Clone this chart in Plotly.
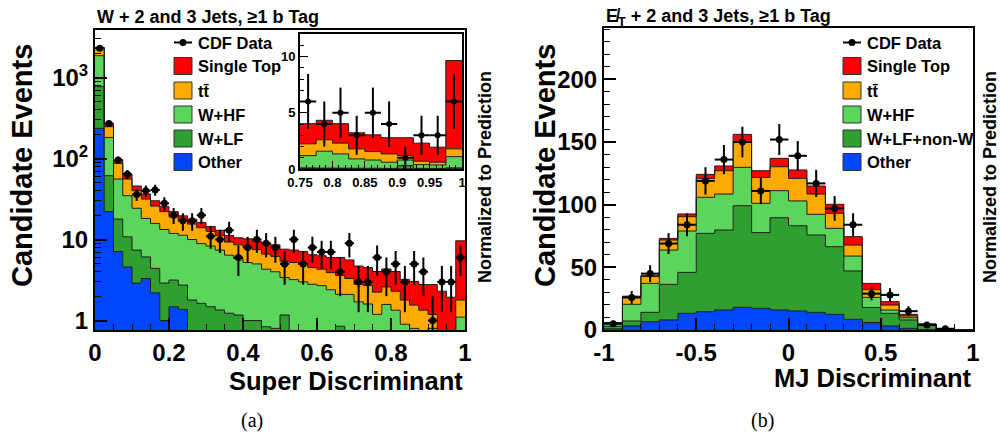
import numpy as np
import plotly.graph_objects as go

W, H = 1000, 434

# ---------------- Left panel: Super Discriminant (W + 2,3 jets) ----------------
sd_edges = np.linspace(0.0, 1.0, 41)
sd_other = [236, 22.1, 7.1, 4.6, 2.9, 3.3, 2.2, 1.0, 1.48, 1.37,
            0, 0, 0, 0, 0, 0, 0, 0, 0, 0,
            0, 0, 0, 0, 0, 0, 0, 0, 0, 0,
            0.05, 0.03, 0.03, 0.02, 0.02, 0.02, 0.02, 0.02, 0.02, 0.02]
sd_wlf = [535, 39.3, 10.8, 6.2, 4.5, 2.8, 2.2, 1.9, 1.68, 1.37,
          1.79, 1.63, 1.48, 1.35, 1.23, 1.17, 1.0, 1.0, 0.84, 0.8,
          1.17, 0.75, 0.7, 0.65, 0.6, 0.55, 0.85, 0.5, 0.45, 0.4,
          0.05, 0.05, 0.05, 0.05, 0.05, 0.04, 0.28, 0.04, 0.04, 0.08]
sd_whf = [1089, 120.6, 37.9, 24.0, 16.9, 12.1, 11.4, 10.4, 8.74, 8.56,
          8.21, 7.27, 6.82, 6.05, 5.17, 4.63, 4.2, 4.0, 3.46, 3.2,
          2.23, 2.45, 2.3, 2.15, 2.1, 1.85, 1.25, 1.6, 1.25, 1.2,
          1.09, 1.5, 1.26, 0.83, 0.73, 0.54, 0.5, 0.33, 0.3, 1.0]
sd_ttbar = [430, 65, 31.3, 21.0, 15.8, 13.4, 10.1, 8.8, 7.1, 5.8,
            5.5, 5.1, 4.3, 3.8, 2.9, 2.8, 2.8, 2.5, 2.3, 2.2,
            2.0, 2.0, 1.9, 1.7, 1.6, 1.5, 1.5, 1.2, 1.1, 1.1,
            1.05, 1.02, 0.96, 0.89, 0.75, 0.74, 0.39, 0.3, 0.24, 0.69]
sd_stop = [66, 20, 8.7, 8.6, 5.7, 4.9, 4.2, 3.3, 3.1, 2.5,
           2.3, 2.2, 1.9, 1.8, 1.9, 1.9, 2.2, 2.0, 2.4, 2.4,
           2.2, 2.2, 2.2, 2.0, 2.0, 2.1, 2.4, 2.3, 1.9, 1.8,
           1.79, 1.73, 1.73, 1.43, 1.49, 1.44, 1.59, 1.61, 1.34, 7.85]
sd_data = [2300, 270, 96, 64, 36, 40, 41, 28, 20, 17,
           17, 20, 11, 10, 13, 6, 8, 10, 9, 8,
           5, 10, 5, 8, 7, 7, 4, 9, 3, 3,
           6, 4, 5, 3, 5, 4, 1, 3, 3, 6]
sd_yticks = [1, 10, 100, 1000]
sd_yticktext = ["1", "10", "10<sup>2</sup>", "10<sup>3</sup>"]
sd_xticks = [0, 0.2, 0.4, 0.6, 0.8, 1.0]
sd_xticktext = ["0", "0.2", "0.4", "0.6", "0.8", "1"]
inset_first_bin = 30
inset_xticks = [0.75, 0.8, 0.85, 0.9, 0.95, 1.0]
inset_xticktext = ["0.75", "0.8", "0.85", "0.9", "0.95", "1"]
inset_yticks = [0, 5, 10]

# ---------------- Right panel: MJ Discriminant (MET + 2,3 jets) ----------------
mj_edges = np.linspace(-1.0, 1.0, 21)
mj_other = [1.0, 3.2, 6.6, 8.0, 13.3, 14.6, 16.0, 18.1, 17.3, 16.0,
            15.2, 14.1, 12.5, 8.5, 6.0, 3.2, 1.3, 0.3, 0.1, 0.0]
mj_wlf = [2.0, 4.0, 7.5, 28.4, 32.7, 62.5, 63.8, 81.1, 60.4, 73.6,
          68.0, 61.7, 54.0, 38.6, 12.0, 10.1, 6.7, 3.5, 0.5, 0.1]
mj_whf = [2.5, 13.3, 23.1, 27.4, 33.0, 28.8, 28.7, 30.6, 23.4, 21.6,
          19.8, 16.5, 14.6, 11.9, 8.0, 2.6, 1.8, 0.5, 0.1, 0.0]
mj_ttbar = [0.3, 5.3, 5.4, 8.0, 11.4, 15.1, 18.6, 20.5, 20.7, 19.1,
            18.0, 16.2, 12.0, 8.8, 6.2, 4.0, 1.4, 0.3, 0.05, 0.0]
mj_stop = [0.2, 1.2, 1.0, 1.3, 2.2, 3.2, 3.8, 5.8, 5.3, 6.7,
           6.7, 6.4, 7.2, 6.7, 5.0, 2.7, 1.3, 0.3, 0.05, 0.0]
mj_data = [5, 26, 45, 69, 84, 119, 136, 150, 111, 152,
           139, 117, 97, 84, 29, 28, 15, 4, 1, None]
mj_yticks = [0, 50, 100, 150, 200]
mj_xticks = [-1, -0.5, 0, 0.5, 1]
mj_xticktext = ["-1", "-0.5", "0", "0.5", "1"]

# ---------------- style ----------------
C_STOP, C_TT, C_WHF, C_WLF, C_OTHER = "#ff0000", "#ffaa00", "#5bd55b", "#2f9f2f", "#0046ff"
OUTLINE = "#1c1c1c"
FONT = "Liberation Sans"


def X(p):
    return p / W


def Y(p):
    return 1 - p / H


fig = go.Figure()


def add_stack(edges, comps, xa, ya, floor, lo=None, hi=None):
    e = np.asarray(edges)[lo:(None if hi is None else hi + 1)]
    n = len(e) - 1
    fig.add_trace(go.Scatter(x=e, y=np.full(len(e), floor), mode="lines",
                             line=dict(width=0, shape="hv"), xaxis=xa, yaxis=ya,
                             hoverinfo="skip", showlegend=False))
    cum = np.zeros(n)
    for vals, color in comps:
        cum = cum + np.asarray(vals, dtype=float)[lo:hi]
        y = np.maximum(cum, floor)
        fig.add_trace(go.Scatter(x=e, y=np.append(y, y[-1]), mode="lines",
                                 line=dict(color=OUTLINE, width=1, shape="hv"),
                                 fill="tonexty", fillcolor=color,
                                 xaxis=xa, yaxis=ya, hoverinfo="skip", showlegend=False))


def add_data(edges, data, xa, ya, lo=None, hi=None, msize=7, thick=2):
    e = np.asarray(edges)
    centers = 0.5 * (e[:-1] + e[1:])
    half = 0.5 * (e[1] - e[0])
    fig.add_trace(go.Scatter(x=centers[lo:hi], y=list(data)[lo:hi], mode="markers",
                             marker=dict(color="black", size=msize),
                             error_y=dict(type="sqrt", color="black", thickness=thick, width=0),
                             error_x=dict(type="constant", value=half, color="black",
                                          thickness=thick, width=0),
                             xaxis=xa, yaxis=ya, showlegend=False))


sd_comps = [(sd_other, C_OTHER), (sd_wlf, C_WLF), (sd_whf, C_WHF), (sd_ttbar, C_TT), (sd_stop, C_STOP)]
mj_comps = [(mj_other, C_OTHER), (mj_wlf, C_WLF), (mj_whf, C_WHF), (mj_ttbar, C_TT), (mj_stop, C_STOP)]

add_stack(sd_edges, sd_comps, "x", "y", 1e-2)
add_data(sd_edges, sd_data, "x", "y")
add_stack(mj_edges, mj_comps, "x2", "y2", 0.0)
add_data(mj_edges, mj_data, "x2", "y2")
add_stack(sd_edges, sd_comps, "x3", "y3", 0.0, lo=inset_first_bin, hi=len(sd_data))
add_data(sd_edges, sd_data, "x3", "y3", lo=inset_first_bin, hi=len(sd_data), msize=6, thick=2)

tick_font = dict(family=FONT, size=24, color="black", weight="bold")
small_font = dict(family=FONT, size=13, color="black", weight="bold")
axis_common = dict(showline=True, mirror=True, linecolor="black", linewidth=2,
                   ticks="inside", tickcolor="black", showgrid=False, zeroline=False,
                   fixedrange=True, automargin=False)

fig.update_layout(
    width=W, height=H, margin=dict(l=0, r=0, t=0, b=0),
    paper_bgcolor="white", plot_bgcolor="white", showlegend=False,
    xaxis=dict(domain=[X(95), X(465)], range=[0, 1], anchor="y",
               tickvals=sd_xticks, ticktext=sd_xticktext, ticklen=12, tickwidth=1.5,
               tickfont=tick_font,
               minor=dict(ticks="inside", dtick=0.05, ticklen=6, tickcolor="black", tickwidth=1),
               **axis_common),
    yaxis=dict(domain=[Y(330), Y(29.5)], type="log", range=[-0.117, 3.593], anchor="x",
               tickvals=sd_yticks, ticktext=sd_yticktext, ticklen=12, tickwidth=1.5,
               tickfont=tick_font,
               minor=dict(ticks="inside", ticklen=6, tickcolor="black", tickwidth=1,
                          tickvals=[m * d for d in (1, 10, 100, 1000) for m in range(2, 10)]),
               **axis_common),
    xaxis2=dict(domain=[X(604), X(973)], range=[-1, 1], anchor="y2",
                tickvals=mj_xticks, ticktext=mj_xticktext, ticklen=12, tickwidth=1.5,
                tickfont=tick_font,
                minor=dict(ticks="inside", dtick=0.1, ticklen=6, tickcolor="black", tickwidth=1),
                **axis_common),
    yaxis2=dict(domain=[Y(330), Y(28)], range=[0, 241], anchor="x2",
                tickvals=mj_yticks, ticklen=12, tickwidth=1.5, tickfont=tick_font,
                minor=dict(ticks="inside", dtick=10, ticklen=6, tickcolor="black", tickwidth=1),
                **axis_common),
    xaxis3=dict(domain=[X(300), X(462)], range=[0.75, 1.0], anchor="y3",
                tickvals=inset_xticks, ticktext=inset_xticktext, ticklen=8, tickwidth=1,
                tickfont=small_font,
                minor=dict(ticks="inside", dtick=0.01, ticklen=4, tickcolor="black", tickwidth=1),
                **axis_common),
    yaxis3=dict(domain=[Y(169), Y(34)], range=[0, 12], anchor="x3",
                tickvals=inset_yticks, ticklen=8, tickwidth=1, tickfont=small_font,
                minor=dict(ticks="inside", dtick=1, ticklen=4, tickcolor="black", tickwidth=1),
                **axis_common),
)

annotations = []
shapes = []


def text(x, y, s, size, xanchor="center", yanchor="middle", angle=0, family=FONT, bold=True):
    f = dict(family=family, size=size, color="black")
    if bold:
        f["weight"] = "bold"
    annotations.append(dict(x=X(x), y=Y(y), xref="paper", yref="paper", text=s, showarrow=False,
                            xanchor=xanchor, yanchor=yanchor, textangle=angle, font=f))


# titles
text(95, 17, "W + 2 and 3 Jets, ≥1 b Tag", 18, xanchor="left")
text(604, 17, "E\u0338<sub>T</sub> + 2 and 3 Jets, ≥1 b Tag", 18, xanchor="left")
# axis titles
text(22, 166, "Candidate Events", 29, angle=-90)
text(545, 166, "Candidate Events", 29, angle=-90)
text(485, 177, "Normalized to Prediction", 18, angle=-90)
text(990, 177, "Normalized to Prediction", 18, angle=-90)
text(465, 381, "Super Discriminant", 25.5, xanchor="right")
text(973, 378, "MJ Discriminant", 25.5, xanchor="right")
# captions
text(252, 420, "(a)", 20, family="Liberation Serif", bold=False)
text(762, 420, "(b)", 20, family="Liberation Serif", bold=False)

# legends
legend_rows = [("Single Top", C_STOP), ("tt\u0304", C_TT), ("W+HF", C_WHF), (None, C_WLF), ("Other", C_OTHER)]
row_y = [66, 90.5, 114.5, 138.5, 162]
for x0, wlf_label in ((174, "W+LF"), (843, "W+LF+non-W")):
    sw = 18
    # data entry
    shapes.append(dict(type="line", xref="paper", yref="paper", x0=X(x0), x1=X(x0 + sw),
                       y0=Y(42.5), y1=Y(42.5), line=dict(color="black", width=2)))
    shapes.append(dict(type="circle", xref="paper", yref="paper", x0=X(x0 + 9 - 3.5), x1=X(x0 + 9 + 3.5),
                       y0=Y(42.5 + 3.5), y1=Y(42.5 - 3.5), fillcolor="black", line=dict(color="black", width=0)))
    text(x0 + sw + 4, 42.5, "CDF Data", 16.5, xanchor="left")
    for (lab, col), yc in zip(legend_rows, row_y):
        shapes.append(dict(type="rect", xref="paper", yref="paper", x0=X(x0), x1=X(x0 + sw),
                           y0=Y(yc + 8.5), y1=Y(yc - 8.5), fillcolor=col,
                           line=dict(color="#333333", width=1)))
        text(x0 + sw + 4, yc, lab if lab is not None else wlf_label, 16.5, xanchor="left")

fig.update_layout(annotations=annotations, shapes=shapes)
fig.write_html("out.html", config={"displayModeBar": False},
               post_script="document.body.style.margin='0px';document.body.style.padding='0px';")
